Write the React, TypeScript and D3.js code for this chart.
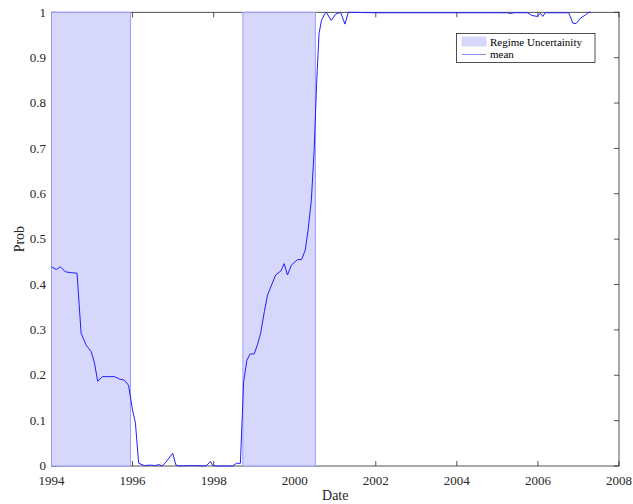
import React, { useEffect, useRef } from "react";
import * as d3 from "d3";

// date (decimal year) / posterior prob of the mean
const dates = [
  1994.0, 1994.12, 1994.22, 1994.34, 1994.5, 1994.63, 1994.73, 1994.85, 1994.98, 1995.06,
  1995.14, 1995.26, 1995.4, 1995.55, 1995.67, 1995.8, 1995.9, 1996.0, 1996.07, 1996.15,
  1996.29, 1996.44, 1996.56, 1996.65, 1996.73, 1996.81, 1996.99, 1997.07, 1997.15, 1997.48,
  1997.81, 1997.92, 1997.98, 1998.1, 1998.47, 1998.56, 1998.66, 1998.74, 1998.82, 1998.9,
  1999.0, 1999.08, 1999.16, 1999.25, 1999.33, 1999.43, 1999.53, 1999.66, 1999.74, 1999.82,
  1999.92, 2000.07, 2000.17, 2000.26, 2000.33, 2000.41, 2000.48, 2000.54, 2000.6, 2000.66,
  2000.74, 2000.78, 2000.9, 2001.01, 2001.13, 2001.24, 2001.32, 2002.0, 2003.0, 2004.0,
  2005.25, 2005.32, 2005.4, 2005.75, 2005.85, 2005.98, 2006.06, 2006.12, 2006.18, 2006.76,
  2006.86, 2006.94, 2007.05, 2007.17, 2007.25, 2007.31,
];
const meanProb = [
  0.439, 0.433, 0.439, 0.428, 0.426, 0.425, 0.293, 0.267, 0.252, 0.227,
  0.187, 0.197, 0.197, 0.197, 0.192, 0.189, 0.178, 0.123, 0.095, 0.006,
  0.001, 0.002, 0.001, 0.003, 0.0, 0.007, 0.028, 0.002, 0.0, 0.001,
  0.0, 0.01, 0.001, 0.0, 0.0, 0.006, 0.006, 0.186, 0.233, 0.247,
  0.247, 0.267, 0.293, 0.34, 0.377, 0.399, 0.421, 0.43, 0.446, 0.421,
  0.443, 0.455, 0.455, 0.476, 0.52, 0.586, 0.696, 0.843, 0.953, 0.982,
  0.997, 1.0, 0.982, 0.996, 1.0, 0.974, 1.0, 0.999, 0.999, 0.999,
  0.999, 0.997, 0.999, 0.999, 0.993, 0.991, 0.998, 0.991, 0.999, 0.999,
  0.976, 0.975, 0.987, 0.994, 1.0, 1.0,
];

// regime uncertainty bands [start, end]
const bandStart = [1994.0, 1998.72];
const bandEnd = [1995.95, 2000.51];

const xTicks = [1994, 1996, 1998, 2000, 2002, 2004, 2006, 2008];
const yTicks = [0, 0.1, 0.2, 0.3, 0.4, 0.5, 0.6, 0.7, 0.8, 0.9, 1];

const legendLabels = ["Regime Uncertainity", "mean"];

function ProbChart() {
  const svgRef = useRef<SVGSVGElement>(null);

  const width = 633;
  const height = 504;
  const left = 51.5;
  const right = 619;
  const top = 12.3;
  const bottom = 466;
  const tickLen = 5;
  const font = "'Liberation Serif', 'Times New Roman', serif";
  const axisColor = "#262626";

  useEffect(() => {
    const svg = d3.select(svgRef.current);
    svg.selectAll("*").remove();

    const x = d3.scaleLinear().domain([1994, 2008]).range([left, right]);
    const y = d3.scaleLinear().domain([0, 1]).range([bottom, top]);

    // box
    svg.append("rect")
      .attr("x", left).attr("y", top)
      .attr("width", right - left).attr("height", bottom - top)
      .attr("fill", "white").attr("stroke", axisColor).attr("stroke-width", 0.8);

    // ticks (inward, on all four sides)
    const g = svg.append("g").attr("stroke", axisColor).attr("stroke-width", 0.8);
    xTicks.forEach((t) => {
      g.append("line").attr("x1", x(t)).attr("x2", x(t)).attr("y1", bottom).attr("y2", bottom - tickLen);
      g.append("line").attr("x1", x(t)).attr("x2", x(t)).attr("y1", top).attr("y2", top + tickLen);
    });
    yTicks.forEach((t) => {
      g.append("line").attr("x1", left).attr("x2", left + tickLen).attr("y1", y(t)).attr("y2", y(t));
      g.append("line").attr("x1", right).attr("x2", right - tickLen).attr("y1", y(t)).attr("y2", y(t));
    });

    // shaded bands
    svg.selectAll("rect.band")
      .data(bandStart.map((s, i) => [s, bandEnd[i]]))
      .join("rect")
      .attr("class", "band")
      .attr("x", (d) => x(d[0]))
      .attr("y", y(1))
      .attr("width", (d) => x(d[1]) - x(d[0]))
      .attr("height", y(0) - y(1))
      .attr("fill", "#d7d7fc")
      .attr("stroke", "#9c9cff")
      .attr("stroke-width", 1);

    // mean line
    const line = d3.line<number>()
      .x((d, i) => x(dates[i]))
      .y((d) => y(d));
    svg.append("path")
      .attr("d", line(meanProb))
      .attr("fill", "none")
      .attr("stroke", "#1f1fff")
      .attr("stroke-width", 1);

    // tick labels
    svg.selectAll("text.xt")
      .data(xTicks)
      .join("text")
      .attr("class", "xt")
      .attr("x", (d) => x(d))
      .attr("y", 485)
      .attr("text-anchor", "middle")
      .attr("font-family", font)
      .attr("font-size", 13)
      .attr("fill", axisColor)
      .text((d) => d);

    svg.selectAll("text.yt")
      .data(yTicks)
      .join("text")
      .attr("class", "yt")
      .attr("x", left - 5.5)
      .attr("y", (d) => y(d) + 4.2)
      .attr("text-anchor", "end")
      .attr("font-family", font)
      .attr("font-size", 13)
      .attr("fill", axisColor)
      .text((d) => d3.format("~g")(d));

    // axis titles
    svg.append("text")
      .attr("x", (left + right) / 2).attr("y", 500)
      .attr("text-anchor", "middle")
      .attr("font-family", font).attr("font-size", 14).attr("fill", axisColor)
      .text("Date");
    svg.append("text")
      .attr("transform", `translate(24,${(top + bottom) / 2}) rotate(-90)`)
      .attr("text-anchor", "middle")
      .attr("font-family", font).attr("font-size", 14).attr("fill", axisColor)
      .text("Prob");

    // legend
    const lg = svg.append("g");
    lg.append("rect")
      .attr("x", 456.5).attr("y", 33.5).attr("width", 138.5).attr("height", 29)
      .attr("fill", "white").attr("stroke", axisColor).attr("stroke-width", 0.8);
    lg.append("rect")
      .attr("x", 462).attr("y", 37).attr("width", 24).attr("height", 9)
      .attr("fill", "#d7d7fc").attr("stroke", "#d7d7fc");
    lg.append("line")
      .attr("x1", 462).attr("x2", 486).attr("y1", 54.5).attr("y2", 54.5)
      .attr("stroke", "#6b6bff").attr("stroke-width", 0.8);
    lg.selectAll("text")
      .data(legendLabels)
      .join("text")
      .attr("x", 490)
      .attr("y", (d, i) => 45.5 + i * 12.5)
      .attr("font-family", font)
      .attr("font-size", 11)
      .attr("fill", "#000")
      .text((d) => d);
  }, []);

  return (
    <svg
      ref={svgRef}
      width={width}
      height={height}
      style={{ position: "absolute", left: 0, top: 0, background: "white" }}
    ></svg>
  );
}

export default function App() {
  return <ProbChart />;
}
